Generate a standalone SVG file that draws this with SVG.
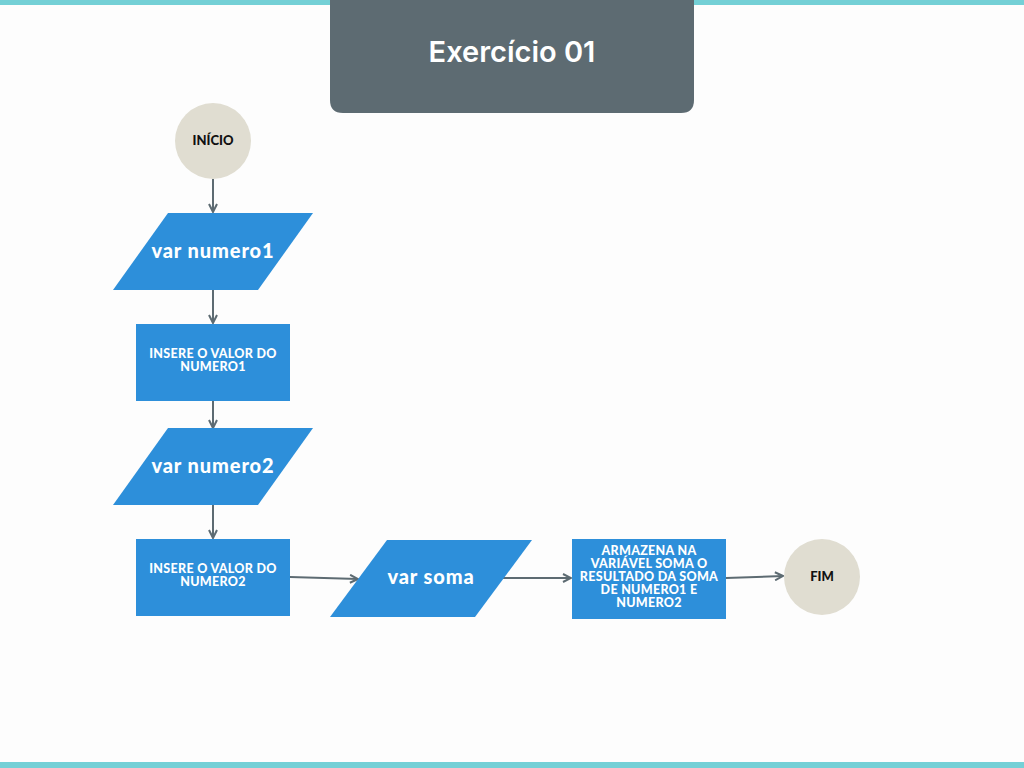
<svg xmlns="http://www.w3.org/2000/svg" width="1024" height="768" viewBox="0 0 1024 768">
<defs>
<style>
.bar{fill:#74d0d6}
.hdr{fill:#5d6b72}
.term{fill:#e0ddd1}
.blue{fill:#2d8fda}
.tt{font-family:Inter,"Open Sans",sans-serif;font-weight:600;font-size:29px;fill:#ffffff;text-anchor:middle}
.tlab{font-family:Lato,"Open Sans",sans-serif;font-weight:900;font-size:13px;fill:#111111;text-anchor:middle}
.plab{font-family:Lato,"Open Sans",sans-serif;font-weight:900;font-size:20px;letter-spacing:0.9px;fill:#ffffff;text-anchor:middle}
.rlab{font-family:Lato,"Open Sans",sans-serif;font-weight:900;font-size:12.5px;letter-spacing:0.3px;fill:#ffffff;text-anchor:middle}
.con{stroke:#5d6b72;stroke-width:2;fill:none;marker-end:url(#ah)}
</style>
<marker id="ah" viewBox="0 0 10 10" refX="9" refY="5" markerWidth="5" markerHeight="5" orient="auto" markerUnits="strokeWidth">
<path d="M1,1 L9,5 L1,9" fill="none" stroke="#5d6b72" stroke-width="2"/>
</marker>
</defs>
<rect width="1024" height="768" fill="#fdfdfd"/>
<rect class="bar" x="0" y="0" width="1024" height="5"/>
<rect class="bar" x="0" y="762" width="1024" height="6"/>
<g id="header">
<path class="hdr" d="M330,0 H694 V100 Q694,113 681,113 H343 Q330,113 330,100 Z"/>
<text class="tt" x="512" y="62">Exercício 01</text>
</g>
<g id="connectors">
<line class="con" x1="213" y1="179" x2="213" y2="212"/>
<line class="con" x1="213" y1="290" x2="213" y2="323"/>
<line class="con" x1="213" y1="401" x2="213" y2="428"/>
<line class="con" x1="213" y1="505" x2="213" y2="538"/>
<line class="con" x1="290" y1="577" x2="358" y2="579"/>
<line class="con" x1="503" y1="578" x2="571" y2="578"/>
<line class="con" x1="726" y1="578" x2="783" y2="576"/>
</g>
<g id="inicio">
<circle class="term" cx="213" cy="141" r="38"/>
<text class="tlab" x="213" y="145">INÍCIO</text>
</g>
<g id="var1">
<polygon class="blue" points="168,213 313,213 258,290 113,290"/>
<text class="plab" x="213" y="258">var numero1</text>
</g>
<g id="insere1">
<rect class="blue" x="136" y="324" width="154" height="77"/>
<text class="rlab" x="213" y="358">INSERE O VALOR DO</text>
<text class="rlab" x="213" y="371">NUMERO1</text>
</g>
<g id="var2">
<polygon class="blue" points="168,428 313,428 258,505 113,505"/>
<text class="plab" x="213" y="473">var numero2</text>
</g>
<g id="insere2">
<rect class="blue" x="136" y="539" width="154" height="77"/>
<text class="rlab" x="213" y="573">INSERE O VALOR DO</text>
<text class="rlab" x="213" y="586">NUMERO2</text>
</g>
<g id="varsoma">
<polygon class="blue" points="387,540 532,540 475,617 330,617"/>
<text class="plab" x="431" y="584">var soma</text>
</g>
<g id="armazena">
<rect class="blue" x="572" y="539" width="154" height="80"/>
<text class="rlab" x="649" y="555">ARMAZENA NA</text>
<text class="rlab" x="649" y="568">VARIÁVEL SOMA O</text>
<text class="rlab" x="649" y="581">RESULTADO DA SOMA</text>
<text class="rlab" x="649" y="594">DE NUMERO1 E</text>
<text class="rlab" x="649" y="607">NUMERO2</text>
</g>
<g id="fim">
<circle class="term" cx="822" cy="577" r="38"/>
<text class="tlab" x="822" y="581">FIM</text>
</g>
</svg>
